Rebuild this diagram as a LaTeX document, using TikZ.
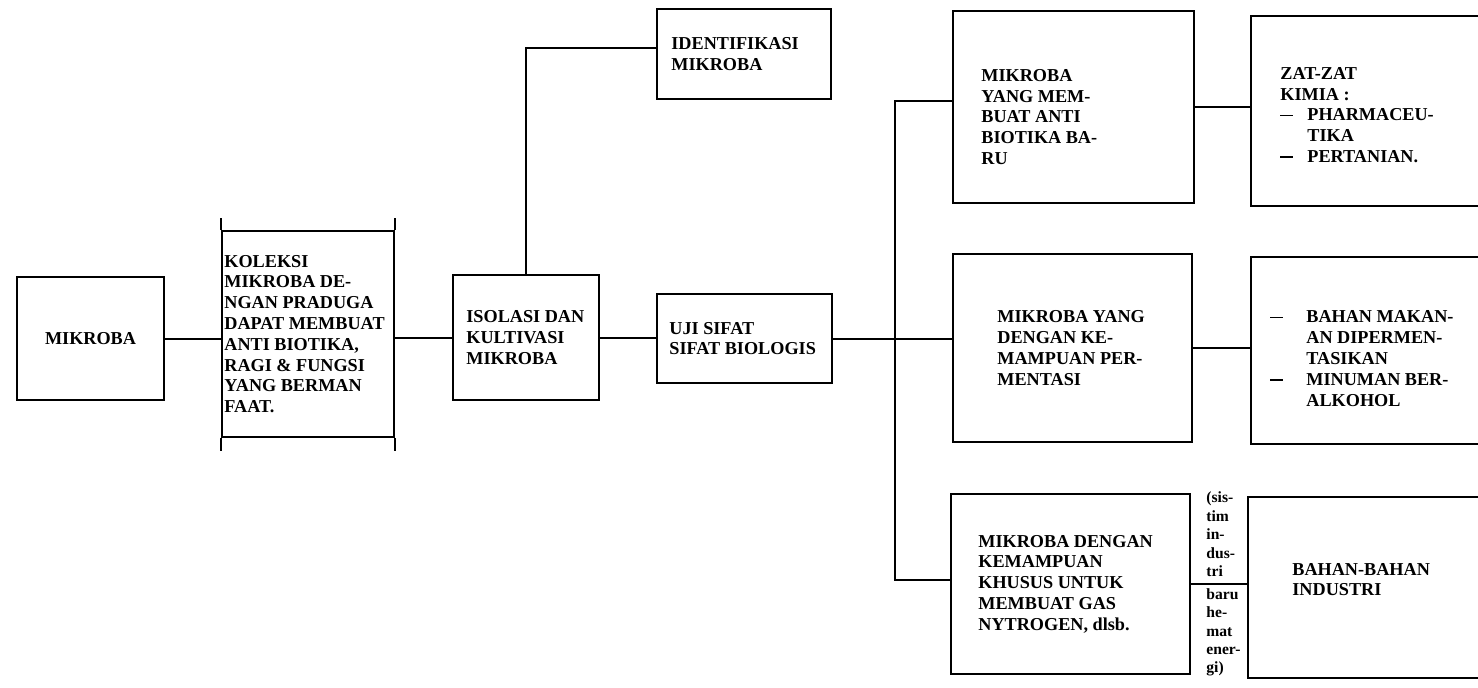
\documentclass[tikz,border=0pt]{standalone}
\usepackage{fontspec}
\setmainfont{Liberation Serif}
\usetikzlibrary{fit}

% a dash that opens an item, set in a box of the given width
\newcommand\dashmark[1]{\makebox[#1][l]{\rule[2.3pt]{6.5pt}{0.85pt}}}

\begin{document}
\begin{tikzpicture}[x=0.5pt, y=-0.5pt,
  box/.style={draw, line width=1pt, inner sep=0pt},
  link/.style={line width=1pt},
  txt/.style={font=\fontsize{9.1}{10.4}\selectfont\bfseries, align=left, inner sep=0pt},
  note/.style={font=\fontsize{7.8}{9.2}\selectfont\bfseries, align=left, inner sep=0pt}]

\useasboundingbox (0,0) rectangle (1478,687);
\clip (0,0) rectangle (1478,687);

% boxes of the main chain
\node[box, fit={(17,277) (164,400)}] (mik) {};
\node[box, fit={(222,231) (394,437)}] (kol) {};
\node[box, fit={(453,275) (599,400)}] (iso) {};
\node[box, fit={(657,9) (831,99)}] (ident) {};
\node[box, fit={(657,294) (832,383)}] (uji) {};

% side posts of the collection box
\draw[link] (kol.north west) -- ++(0,-12);
\draw[link] (kol.north east) -- ++(0,-12);
\draw[link] (kol.south west) -- ++(0,13);
\draw[link] (kol.south east) -- ++(0,13);

% the three branches and their products (open to the right)
\node[box, fit={(953,11) (1194,203)}] (a1) {};
\node[box, fit={(1251,16) (1495,206)}] (a2) {};
\node[box, fit={(953,254) (1192,442)}] (b1) {};
\node[box, fit={(1251,257) (1495,444)}] (b2) {};
\node[box, fit={(951,494) (1190,674)}] (c1) {};
\node[box, fit={(1248,497) (1495,678)}] (c2) {};

% texts
\node[txt] at (mik.center) {MIKROBA};
\node[txt, anchor=west, xshift=1.5pt] at (kol.west)
  {\fontsize{9.1}{10}\selectfont KOLEKSI\\MIKROBA DE-\\NGAN PRADUGA\\DAPAT MEMBUAT\\ANTI BIOTIKA,\\RAGI \& FUNGSI\\YANG BERMAN\\FAAT.};
\node[txt, anchor=west, xshift=7pt] at (iso.west) {ISOLASI DAN\\KULTIVASI\\MIKROBA};
\node[txt, anchor=west, xshift=7.5pt] at (ident.west) {IDENTIFIKASI\\MIKROBA};
\node[txt, anchor=west, xshift=6.5pt] at (uji.west) {UJI SIFAT\\SIFAT BIOLOGIS};

\node[txt, anchor=west, xshift=14.5pt, yshift=-5pt] at (a1.west)
  {\fontsize{9.1}{11.2}\selectfont MIKROBA\\YANG MEM-\\BUAT ANTI\\BIOTIKA BA-\\RU};
\node[txt, anchor=west, xshift=15pt, yshift=-2pt] at (a2.west)
  {\fontsize{9.1}{11}\selectfont ZAT-ZAT\\KIMIA :\\\dashmark{13.5pt}PHARMACEU-\\\hspace*{13.5pt}TIKA\\\dashmark{13.5pt}PERTANIAN.};
\node[txt, anchor=west, xshift=22.5pt] at (b1.west)
  {MIKROBA YANG\\DENGAN KE-\\MAMPUAN PER-\\MENTASI};
\node[txt, anchor=west, xshift=10pt, yshift=-4pt] at (b2.west)
  {\dashmark{18pt}BAHAN MAKAN-\\\hspace*{18pt}AN DIPERMEN-\\\hspace*{18pt}TASIKAN\\\dashmark{18pt}MINUMAN BER-\\\hspace*{18pt}ALKOHOL};
\node[txt, anchor=west, xshift=14pt] at (c1.west)
  {MIKROBA DENGAN\\KEMAMPUAN\\KHUSUS UNTUK\\MEMBUAT GAS\\NYTROGEN, dlsb.};
\node[txt, anchor=west, xshift=22.5pt, yshift=4pt] at (c2.west)
  {BAHAN-BAHAN\\INDUSTRI};

% connectors of the main chain
\draw[link] (mik.east) -- (mik.east -| kol.west);
\draw[link] (iso.west) -- (iso.west -| kol.east);
\draw[link] (iso.east) -- (iso.east -| uji.west);
\draw[link] (iso.north) |- ([yshift=3pt]ident.west);

% distribution bar to the three branches
\coordinate (bt) at (895,101);
\coordinate (bb) at (895,580);
\draw[link] (a1.west |- bt) -- (bt) -- (bb) -- (bb -| c1.west);
\draw[link] (uji.east) -- (uji.east -| b1.west);

% branch to product links
\draw[link] (a1.east) -- (a1.east -| a2.west);
\draw[link] (b1.east) -- (b1.east -| b2.west);
\draw[link] (c1.east) -- (c1.east -| c2.west);

% remark on the industrial link
\node[note, anchor=south west] at ([xshift=7.5pt, yshift=3.5pt]c1.east) {(sis-\\tim\\in-\\dus-\\tri};
\node[note, anchor=north west] at ([xshift=7.5pt, yshift=-2pt]c1.east) {baru\\he-\\mat\\ener-\\gi)};

\end{tikzpicture}
\end{document}
